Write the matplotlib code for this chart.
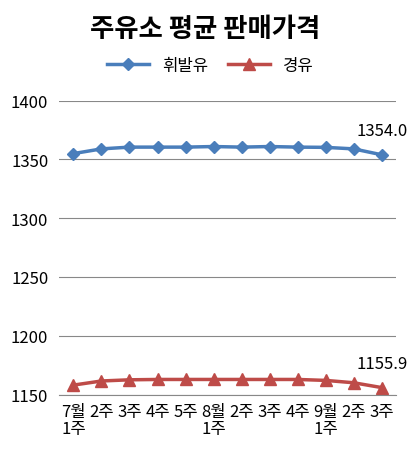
import matplotlib
matplotlib.use("Agg")
import matplotlib.pyplot as plt

plt.rcParams['font.family'] = ['Noto Sans CJK KR', 'DejaVu Sans']

weeks = ["7월\n1주", "2주", "3주", "4주", "5주", "8월\n1주", "2주", "3주", "4주", "9월\n1주", "2주", "3주"]
gasoline = [1355.0, 1359.0, 1360.5, 1360.5, 1360.5, 1361.0, 1360.5, 1361.0, 1360.5, 1360.3, 1359.0, 1354.0]
diesel = [1158.0, 1161.5, 1162.5, 1162.8, 1162.8, 1162.8, 1162.8, 1162.8, 1162.8, 1162.0, 1160.0, 1155.9]

fig = plt.figure(figsize=(4.10, 4.52), dpi=100)
ax = fig.add_axes([0.145, 0.125, 0.82, 0.65])
x = range(len(weeks))
ax.plot(x, gasoline, color="#4a7ebb", lw=2.5, marker="D", ms=6, label="휘발유")
ax.plot(x, diesel, color="#be4b48", lw=2.5, marker="^", ms=8, label="경유")
ax.set_ylim(1150, 1400)
ax.set_yticks(range(1150, 1401, 50))
ax.set_xlim(-0.5, len(weeks) - 0.5)
ax.set_xticks(list(x))
ax.set_xticklabels(weeks, fontsize=12, linespacing=1.0)
ax.tick_params(axis="y", labelsize=12, length=0, pad=8)
ax.tick_params(axis="x", length=0, pad=6)
for lab in ax.get_xticklabels():
    lab.set_multialignment("left")
ax.grid(axis="y", color="#888888", lw=0.8)
ax.set_axisbelow(True)
for s in ["top", "right", "left"]:
    ax.spines[s].set_visible(False)
ax.spines["bottom"].set_color("#888888")
ax.annotate(f"{gasoline[-1]:.1f}", (x[-1], gasoline[-1]), xytext=(0, 14), textcoords="offset points", ha="center", fontsize=12)
ax.annotate(f"{diesel[-1]:.1f}", (x[-1], diesel[-1]), xytext=(0, 14), textcoords="offset points", ha="center", fontsize=12)

fig.text(0.5, 0.935, "주유소 평균 판매가격", ha="center", va="center", fontsize=19, fontweight="bold")
ax.legend(loc="upper center", bbox_to_anchor=(0.45, 1.2), ncol=2, frameon=False, fontsize=12, handlelength=2.5, columnspacing=1.2)

fig.savefig("out.png", dpi=100)
